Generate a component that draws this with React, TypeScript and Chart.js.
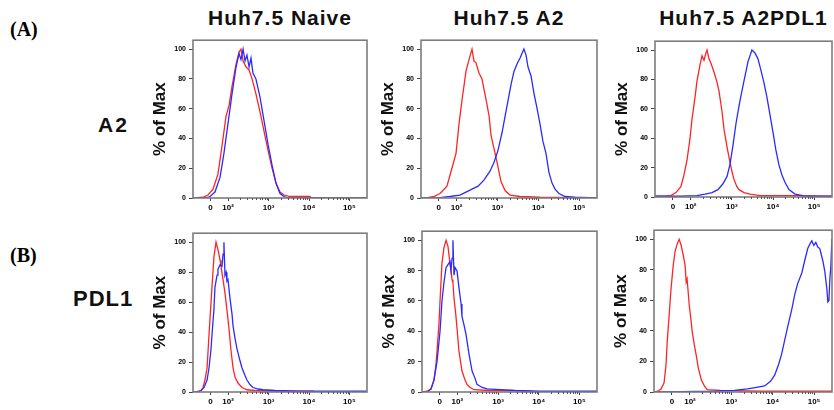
import React, { useEffect, useRef } from "react";
import { Chart, registerables } from "chart.js";

Chart.register(...registerables);

// ---------- axis ticks ----------
const X_MAJOR_TICKS = [100, 200, 430, 660, 890];
const X_MAJOR_LABELS = ["0", "10²", "10³", "10⁴", "10⁵"];
const Y_TICKS = [0, 20, 40, 60, 80, 100];
const Y_LABELS = ["0", "20", "40", "60", "80", "100"];
const X_MIN = 0;
const X_MAX = 990;
const Y_MAX = 106;

// ---------- titles ----------
const COLUMN_TITLES = ["Huh7.5 Naive", "Huh7.5 A2", "Huh7.5 A2PDL1"];
const ROW_LABELS = ["A2", "PDL1"];
const ROW_TAGS = ["(A)", "(B)"];
const Y_TITLE = "% of Max";

// ---------- histogram data: [channel position, % of max] ----------
const A2_NAIVE_RED: [number, number][] = [
  [0, 0], [57, 0.5], [85, 2], [114, 6], [142, 16], [165, 35], [188, 55], [205, 62], [222, 75],
  [245, 90], [262, 98], [273, 100], [285, 92], [302, 88], [319, 86], [336, 80], [358, 70],
  [381, 58], [404, 45], [427, 32], [450, 20], [472, 10], [495, 4], [518, 2], [552, 1],
  [609, 1], [666, 1], [672, 0], [990, 0],
];
const A2_NAIVE_BLUE: [number, number][] = [
  [0, 0], [70, 0], [97, 1], [125, 4], [154, 14], [176, 30], [199, 50], [222, 70], [245, 88],
  [262, 97], [273, 93], [285, 100], [296, 92], [307, 96], [319, 88], [330, 94], [341, 84],
  [358, 80], [381, 68], [404, 52], [427, 36], [450, 22], [472, 10], [495, 3], [518, 1],
  [540, 0], [990, 0],
];
const A2_A2_RED: [number, number][] = [
  [0, 0], [39, 0.3], [73, 1], [107, 3], [146, 8], [174, 20], [197, 30], [214, 50], [231, 66],
  [253, 85], [270, 93], [287, 100], [298, 92], [309, 91], [326, 84], [343, 80], [366, 66],
  [383, 55], [394, 42], [411, 33], [428, 24], [450, 11], [473, 5], [501, 2], [557, 1],
  [669, 0.5], [861, 0.3], [894, 0], [990, 0],
];
const A2_A2_BLUE: [number, number][] = [
  [0, 0], [107, 0.3], [163, 1], [219, 2], [253, 4], [287, 6], [321, 8], [354, 12], [388, 18],
  [411, 24], [433, 32], [456, 44], [473, 55], [489, 65], [506, 76], [523, 85], [540, 90],
  [557, 94], [568, 97], [579, 100], [591, 96], [602, 88], [619, 82], [636, 70], [653, 60],
  [669, 50], [686, 38], [703, 30], [720, 17], [737, 10], [754, 6], [776, 3], [810, 1],
  [866, 0.5], [990, 0],
];
const A2_A2PDL1_RED: [number, number][] = [
  [0, 0.5], [56, 0.5], [89, 1], [117, 3], [145, 7], [162, 15], [179, 25], [196, 40], [207, 53],
  [224, 68], [235, 79], [252, 90], [263, 96], [274, 93], [285, 98], [291, 100], [302, 94],
  [313, 91], [330, 85], [347, 78], [358, 72], [375, 58], [386, 46], [403, 34], [414, 27],
  [431, 17], [442, 12], [458, 7], [470, 5], [498, 3], [531, 2], [587, 1], [816, 1], [839, 0.5],
  [990, 0.5],
];
const A2_A2PDL1_BLUE: [number, number][] = [
  [0, 0.5], [140, 0.5], [235, 1], [280, 2], [319, 3], [352, 5], [380, 9], [403, 14], [419, 22],
  [436, 35], [453, 50], [470, 62], [486, 72], [503, 82], [520, 92], [531, 96], [542, 100],
  [559, 98], [576, 94], [593, 86], [609, 78], [626, 68], [643, 56], [660, 44], [676, 32],
  [693, 22], [710, 15], [727, 10], [749, 5], [783, 2], [827, 1], [922, 0.5], [990, 0.5],
];
const PDL1_NAIVE_RED: [number, number][] = [
  [0, 0], [23, 0.3], [46, 1], [57, 3], [68, 8], [80, 16], [91, 38], [100, 55], [108, 70],
  [119, 90], [131, 100], [142, 95], [154, 88], [159, 84], [171, 75], [182, 66], [193, 55],
  [205, 42], [216, 28], [228, 16], [239, 10], [256, 6], [279, 3], [307, 1.5], [353, 1],
  [495, 0.5], [683, 0.5], [694, 0], [990, 0],
];
const PDL1_NAIVE_BLUE: [number, number][] = [
  [0, 0], [28, 0], [46, 1], [63, 3], [80, 8], [91, 16], [102, 28], [108, 38], [119, 55],
  [125, 70], [137, 78], [142, 82], [154, 85], [165, 84], [171, 92], [176, 100], [182, 78],
  [188, 80], [193, 74], [199, 75], [211, 62], [222, 52], [228, 44], [239, 36], [250, 29],
  [267, 21], [279, 16], [296, 11], [307, 8], [324, 5], [341, 3], [370, 2], [398, 1.5],
  [467, 1], [609, 0.5], [990, 0.5],
];
const PDL1_A2_RED: [number, number][] = [
  [0, 0], [28, 0.5], [51, 2], [68, 8], [79, 18], [85, 27], [96, 45], [102, 60], [113, 85],
  [124, 95], [136, 100], [147, 96], [158, 85], [164, 80], [170, 74], [175, 72], [181, 62],
  [192, 50], [198, 42], [209, 27], [226, 14], [243, 8], [255, 5], [272, 3], [294, 1.5],
  [385, 1], [520, 1], [594, 0.5], [668, 0], [990, 0],
];
const PDL1_A2_BLUE: [number, number][] = [
  [0, 0], [34, 0.3], [51, 2], [68, 8], [85, 20], [102, 40], [113, 60], [124, 72], [136, 82],
  [147, 84], [158, 86], [164, 80], [170, 88], [175, 100], [181, 77], [187, 82], [198, 80],
  [209, 69], [221, 58], [226, 50], [238, 44], [249, 38], [266, 25], [283, 14], [300, 9],
  [311, 5], [340, 3], [368, 2], [441, 1.5], [520, 1], [668, 0.5], [990, 0.5],
];
const PDL1_A2PDL1_RED: [number, number][] = [
  [0, 0], [22, 0.5], [39, 2], [56, 6], [67, 18], [73, 32], [84, 50], [95, 68], [106, 82],
  [117, 92], [129, 97], [140, 100], [151, 96], [162, 90], [173, 83], [179, 72], [184, 74],
  [196, 57], [207, 46], [212, 40], [224, 31], [235, 24], [246, 16], [263, 8], [280, 4],
  [296, 1.5], [369, 1], [593, 0.5], [990, 0.5],
];
const PDL1_A2PDL1_BLUE: [number, number][] = [
  [0, 0], [145, 0.3], [335, 0.5], [447, 1], [520, 2], [570, 3], [615, 4], [648, 7], [671, 11],
  [693, 18], [710, 25], [727, 34], [744, 43], [766, 54], [783, 64], [799, 71], [822, 78],
  [838, 86], [855, 94], [872, 98], [878, 99], [889, 96], [900, 98], [911, 95], [922, 94],
  [939, 86], [950, 79], [961, 68], [967, 59], [973, 60], [978, 74], [984, 83], [989, 100],
];

const RED = "#ff2424";
const BLUE = "#2a2aff";
const FONT = 'Arial, "Liberation Sans", Helvetica, sans-serif';

const Y_AXIS_W = 48;
const X_AXIS_H = 22;

type Panel = {
  L: number; R: number; T: number; B: number;
  red: [number, number][]; blue: [number, number][];
};

const PANELS: Panel[] = [
  { L: 193, R: 367, T: 35, B: 198, red: A2_NAIVE_RED, blue: A2_NAIVE_BLUE },
  { L: 421, R: 597, T: 35, B: 198, red: A2_A2_RED, blue: A2_A2_BLUE },
  { L: 655, R: 832, T: 36, B: 197, red: A2_A2PDL1_RED, blue: A2_A2PDL1_BLUE },
  { L: 193, R: 367, T: 228, B: 392, red: PDL1_NAIVE_RED, blue: PDL1_NAIVE_BLUE },
  { L: 422, R: 597, T: 226, B: 392, red: PDL1_A2_RED, blue: PDL1_A2_BLUE },
  { L: 654, R: 832, T: 225, B: 392, red: PDL1_A2PDL1_RED, blue: PDL1_A2PDL1_BLUE },
];

function minorTicks(): number[] {
  const out: number[] = [];
  for (let d = 1; d < X_MAJOR_TICKS.length - 1; d++) {
    const a = X_MAJOR_TICKS[d];
    const b = X_MAJOR_TICKS[d + 1];
    for (let k = 2; k <= 9; k++) out.push(a + (b - a) * Math.log10(k));
  }
  return out;
}

const framePlugin = {
  id: "frame",
  afterDraw(chart: any) {
    const { ctx, chartArea } = chart;
    ctx.save();
    ctx.strokeStyle = "#7c7c7c";
    ctx.lineWidth = 1.6;
    ctx.strokeRect(chartArea.left, chartArea.top, chartArea.right - chartArea.left, chartArea.bottom - chartArea.top);
    // minor ticks along the x axis
    const xs = chart.scales.x;
    ctx.strokeStyle = "#555";
    ctx.lineWidth = 1;
    for (const v of minorTicks()) {
      const px = Math.round(xs.getPixelForValue(v)) + 0.5;
      ctx.beginPath();
      ctx.moveTo(px, chartArea.bottom);
      ctx.lineTo(px, chartArea.bottom + 2);
      ctx.stroke();
    }
    ctx.restore();
  },
};

function HistPanel({ p }: { p: Panel }) {
  const ref = useRef<HTMLCanvasElement | null>(null);
  const w = p.R - p.L + Y_AXIS_W + 2;
  const h = p.B - p.T + 2 + X_AXIS_H;
  useEffect(() => {
    if (!ref.current) return;
    const toPts = (arr: [number, number][]) => arr.map(([x, y]) => ({ x, y }));
    const chart = new Chart(ref.current, {
      type: "line",
      data: {
        datasets: [
          { data: toPts(p.blue), borderColor: BLUE, borderWidth: 1.3, pointRadius: 0, tension: 0, fill: false },
          { data: toPts(p.red), borderColor: RED, borderWidth: 1.3, pointRadius: 0, tension: 0, fill: false },
        ],
      },
      options: {
        responsive: false,
        maintainAspectRatio: false,
        animation: false,
        events: [],
        layout: { padding: { top: 2, right: 2, left: 0, bottom: 0 } },
        plugins: { legend: { display: false }, tooltip: { enabled: false }, title: { display: false } },
        scales: {
          x: {
            type: "linear",
            min: X_MIN,
            max: X_MAX,
            afterBuildTicks: (s: any) => {
              s.ticks = X_MAJOR_TICKS.map((v) => ({ value: v }));
            },
            afterFit: (s: any) => {
              s.height = X_AXIS_H;
            },
            ticks: {
              autoSkip: false,
              maxRotation: 0,
              minRotation: 0,
              padding: 2,
              color: "#000",
              font: { size: 8, weight: "bold", family: FONT },
              callback: (_v: any, i: number) => X_MAJOR_LABELS[i],
            },
            grid: { display: true, drawOnChartArea: false, drawTicks: true, tickLength: 3, color: "#444", lineWidth: 1 },
            border: { display: false },
          },
          y: {
            type: "linear",
            min: 0,
            max: Y_MAX,
            afterBuildTicks: (s: any) => {
              s.ticks = Y_TICKS.map((v) => ({ value: v }));
            },
            afterFit: (s: any) => {
              s.width = Y_AXIS_W;
            },
            ticks: {
              autoSkip: false,
              padding: 3,
              color: "#000",
              font: { size: 7, weight: "bold", family: FONT },
              callback: (_v: any, i: number) => Y_LABELS[i],
            },
            grid: { display: true, drawOnChartArea: false, drawTicks: true, tickLength: 4, color: "#444", lineWidth: 1 },
            border: { display: false },
            title: {
              display: true,
              text: Y_TITLE,
              color: "#111",
              font: { size: 17, weight: "bold", family: FONT },
              padding: { top: 5, bottom: 0 },
            },
          },
        },
      } as any,
      plugins: [framePlugin],
    });
    return () => chart.destroy();
  }, [p]);
  return (
    <canvas
      ref={ref}
      width={w}
      height={h}
      style={{ position: "absolute", left: p.L - Y_AXIS_W, top: p.T - 2, width: w, height: h }}
    />
  );
}

export default function App() {
  useEffect(() => {
    document.body.style.margin = "0";
  }, []);
  const colCenters = [(PANELS[0].L + PANELS[0].R) / 2, (PANELS[1].L + PANELS[1].R) / 2, (PANELS[2].L + PANELS[2].R) / 2];
  const textBase: React.CSSProperties = { position: "absolute", whiteSpace: "nowrap", fontFamily: FONT, fontWeight: "bold", color: "#111" };
  return (
    <div style={{ position: "fixed", left: 0, top: 0, width: 834, height: 410, background: "#fff", overflow: "hidden" }}>
      {COLUMN_TITLES.map((t, i) => (
        <div
          key={t}
          style={{ ...textBase, left: colCenters[i] - 100, width: 200, textAlign: "center", top: 7, fontSize: 21, lineHeight: "21px", letterSpacing: 1 }}
        >
          {t}
        </div>
      ))}
      <div style={{ ...textBase, left: 98, top: 114, fontSize: 21, lineHeight: "21px", letterSpacing: 2 }}>{ROW_LABELS[0]}</div>
      <div style={{ ...textBase, left: 73, top: 288, fontSize: 22, lineHeight: "22px", letterSpacing: 1 }}>{ROW_LABELS[1]}</div>
      <div style={{ ...textBase, left: 10, top: 19, fontFamily: '"Liberation Serif", "Times New Roman", serif', fontSize: 20, lineHeight: "20px", color: "#000" }}>{ROW_TAGS[0]}</div>
      <div style={{ ...textBase, left: 10, top: 245, fontFamily: '"Liberation Serif", "Times New Roman", serif', fontSize: 20, lineHeight: "20px", color: "#000" }}>{ROW_TAGS[1]}</div>
      {PANELS.map((p, i) => (
        <HistPanel key={i} p={p} />
      ))}
    </div>
  );
}
